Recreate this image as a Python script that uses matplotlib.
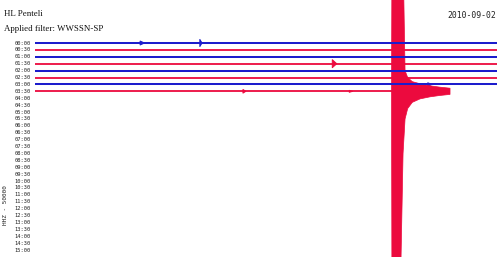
import matplotlib
matplotlib.use("Agg")
import matplotlib.pyplot as plt

# ---- data ----
station = "HL Penteli"
filter_text = "Applied filter: WWSSN-SP"
date_text = "2010-09-02"
channel_text = "HHZ - 50000"

n_rows = 31                      # 00:00 ... 15:00, 30-minute lines
row_labels = [f"{r // 2:02d}:{(r % 2) * 30:02d}" for r in range(n_rows)]
trace_rows = [0, 1, 2, 3, 4, 5, 6, 7]
trace_end_min = [30, 30, 30, 30, 30, 30, 30, 26.95]   # minutes of data in each line

# small arrivals: row, onset minute, amplitude (rows), duration (min)
ev_row = [0, 0, 3, 6, 7, 7]
ev_t0 = [6.82, 10.70, 19.30, 25.50, 13.50, 20.40]
ev_amp = [0.30, 0.55, 0.60, 0.25, 0.28, 0.15]
ev_dur = [0.30, 0.15, 0.30, 0.30, 0.20, 0.25]

# big earthquake on the 03:30 line: envelope above / below the line (row units)
quake_row = 7
quake_min = [23.15, 23.18, 23.50, 23.67, 23.77, 23.90, 24.03, 24.20, 24.50, 25.00, 25.65, 26.30, 26.95]
quake_up = [0.0, 20.0, 20.0, 20.0, 20.0, 20.0, 3.0, 2.0, 1.4, 1.1, 0.8, 0.6, 0.45]
quake_dn = [0.0, 30.0, 30.0, 30.0, 24.0, 9.0, 4.0, 2.5, 1.6, 1.1, 0.8, 0.6, 0.45]

BLUE = "#1c1ccc"
RED = "#ec0a3e"

fig = plt.figure(figsize=(5.0, 2.57), dpi=100)
ax = fig.add_axes([0, 0, 1, 1])
ax.set_xlim(-2.273, 30.195)
ax.set_ylim(31.01, -6.232)
ax.axis("off")

def col(r):
    return BLUE if r % 2 == 0 else RED

for r, te in zip(trace_rows, trace_end_min):
    ax.plot([0, te], [r, r], color=col(r), lw=1.45 if r % 2 == 0 else 1.3,
            solid_capstyle="butt")

for r, t0, a, d in zip(ev_row, ev_t0, ev_amp, ev_dur):
    ax.fill([t0, t0, t0 + d], [r - a, r + a, r], color=col(r), lw=0.6, ec=col(r))

ax.fill_between(quake_min,
                [quake_row - u for u in quake_up],
                [quake_row + d for d in quake_dn],
                color=RED, lw=0.5, ec=RED)

for r, lab in enumerate(row_labels):
    ax.text(-0.30, r, lab, ha="right", va="center", fontsize=3.9,
            family="DejaVu Sans Mono", color="#222222")

fig.text(4 / 500, 1 - 14 / 257, station, ha="left", va="center",
         fontsize=6.4, family="Liberation Serif", color="#111111")
fig.text(4 / 500, 1 - 29 / 257, filter_text, ha="left", va="center",
         fontsize=6.4, family="Liberation Serif", color="#111111")
fig.text(496 / 500, 1 - 15 / 257, date_text, ha="right", va="center",
         fontsize=5.9, family="DejaVu Sans Mono", color="#222222")
fig.text(6 / 500, 1 - 205 / 257, channel_text, ha="center", va="center",
         rotation=90, fontsize=4.3, family="DejaVu Sans Mono", color="#222222")

fig.savefig("out.png", dpi=100, facecolor="white")
